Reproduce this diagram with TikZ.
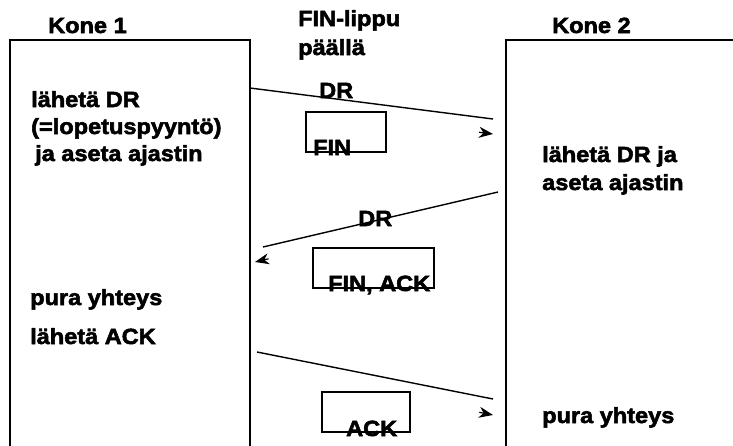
\documentclass[tikz,border=0pt]{standalone}
\usepackage{fontspec}
\setmainfont[FakeStretch=1.06]{Liberation Sans}
\newfontfamily\heavyfont[FakeStretch=1.07,FakeBold=2.5]{Liberation Sans Bold}
\usetikzlibrary{arrows.meta}
\begin{document}
\begin{tikzpicture}[x=1pt,y=-1pt,
  lbl/.style={anchor=base west,inner sep=0pt,font=\fontsize{22}{24}\heavyfont},
  frame/.style={draw,line width=1.4pt},
  msg/.style={draw,line width=1.4pt},
  pkt/.style={draw,line width=1.1pt},
  head/.style={-{Stealth[length=14pt,width=11pt,inset=4.5pt]},line width=1.2pt}]
\useasboundingbox (0,0) rectangle (733,445);
% the two machines (open at the bottom)
\draw[frame] (10,460) -- (10,40) -- (250,40) -- (250,460);
\draw[frame] (506,460) -- (506,40) -- (750,40);
\coordinate (k1a) at (250,88);
\coordinate (k2a) at (493,119);
\coordinate (k2b) at (498,192);
\coordinate (k1b) at (263,247);
\coordinate (k1c) at (257,352);
\coordinate (k2c) at (493,399);
% headings
\node[lbl] (kone1) at (48,33) {Kone 1};
\node[lbl] (kone2) at (552,33) {Kone 2};
\node[lbl] (fin1) at (298,26) {FIN-lippu};
\node[lbl] (fin2) at (298,55) {päällä};
% machine 1 actions
\node[lbl] (a1) at (31,107) {lähetä DR};
\node[lbl] (a2) at (31,134) {(=lopetuspyyntö)};
\node[lbl] (a3) at (35,161) {ja aseta ajastin};
\node[lbl] (a4) at (30,305) {pura yhteys};
\node[lbl] (a5) at (30,344) {lähetä ACK};
% machine 2 actions
\node[lbl] (b1) at (542,162) {lähetä DR ja};
\node[lbl] (b2) at (542,190) {aseta ajastin};
\node[lbl] (b3) at (542,423) {pura yhteys};
% messages
\draw[msg] (k1a) -- (k2a);
\draw[head] (479.1,132.3) -- (493,134);
\node[lbl] (dr1) at (319,98) {DR};
\draw[pkt] (306,112) rectangle (386,152);
\node[lbl] (p1) at (313,155) {FIN};

\draw[msg] (k2b) -- (k1b);
\draw[head] (268.6,258.8) -- (255,262);
\node[lbl] (dr2) at (358,226) {DR};
\draw[pkt] (313,248) rectangle (434,288);
\node[lbl] (p2) at (328,291) {FIN, ACK};

\draw[msg] (k1c) -- (k2c);
\draw[head] (479.3,412.3) -- (493,415);
\draw[pkt] (322,392) rectangle (410,432);
\node[lbl] (p3) at (346,436) {ACK};
\end{tikzpicture}
\end{document}
